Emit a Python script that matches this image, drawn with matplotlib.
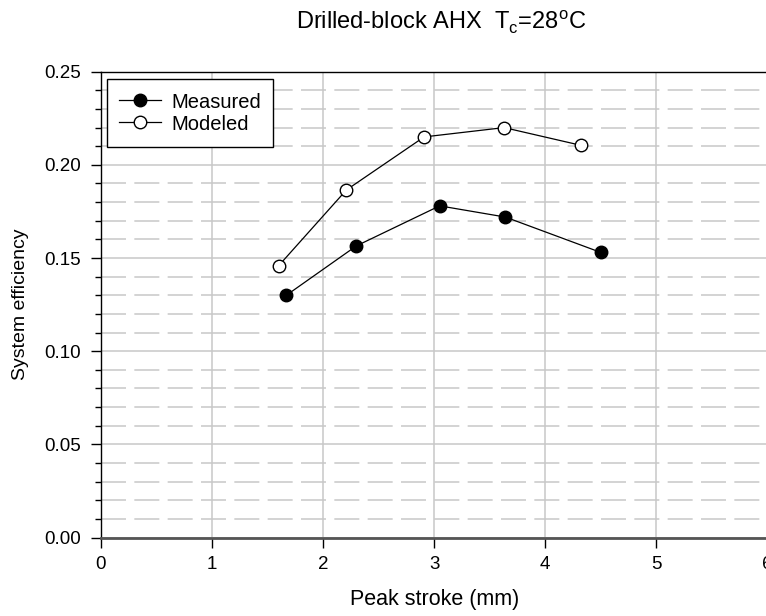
import matplotlib
matplotlib.use('Agg')
import matplotlib.pyplot as plt
from matplotlib.ticker import MultipleLocator

plt.rcParams['font.family'] = ['Liberation Sans', 'DejaVu Sans']
plt.rcParams['lines.scale_dashes'] = False

# data
measured_x = [1.67, 2.30, 3.05, 3.64, 4.50]
measured_y = [0.130, 0.1565, 0.178, 0.172, 0.153]
modeled_x = [1.60, 2.21, 2.91, 3.63, 4.32]
modeled_y = [0.1458, 0.1865, 0.215, 0.220, 0.2105]
x_ticks = [0, 1, 2, 3, 4, 5, 6]
y_ticks = [0.00, 0.05, 0.10, 0.15, 0.20, 0.25]

fig = plt.figure(figsize=(7.66, 6.16), dpi=100)
ax = fig.add_axes([0.1315, 0.1274, 0.8705, 0.7562])

grid_c = '#c8c8c8'
ax.set_axisbelow(True)
ax.grid(True, which='major', axis='both', color=grid_c, linewidth=1.1)
ax.grid(True, which='minor', axis='y', color=grid_c, linewidth=1.1,
        linestyle=(0, (18, 6)))

ax.plot(measured_x, measured_y, '-o', color='black', lw=0.9, ms=9,
        mfc='black', mec='black', label='Measured', zorder=3)
ax.plot(modeled_x, modeled_y, '-o', color='black', lw=0.9, ms=9,
        mfc='white', mec='black', mew=1.0, label='Modeled', zorder=3)

ax.set_xlim(0, 6)
ax.set_ylim(0, 0.25)
ax.set_xticks(x_ticks)
ax.set_yticks(y_ticks)
ax.yaxis.set_minor_locator(MultipleLocator(0.01))
ax.set_yticklabels([f'{v:.2f}' for v in y_ticks])
ax.tick_params(axis='both', which='major', labelsize=13.5, length=7, width=1,
               direction='out')
ax.tick_params(axis='x', which='major', pad=6)
ax.tick_params(axis='y', which='major', pad=7)
ax.tick_params(axis='y', which='minor', length=4, width=1, direction='out')

for s in ['left', 'top']:
    ax.spines[s].set_color('black')
    ax.spines[s].set_linewidth(1.0)
ax.spines['bottom'].set_color('#555555')
ax.spines['bottom'].set_linewidth(2.0)
ax.spines['right'].set_visible(False)

ax.set_xlabel('Peak stroke (mm)', fontsize=15.5, labelpad=12)
ax.set_ylabel('System efficiency', fontsize=14, labelpad=11)

fig.text(0.766, 0.963, r'Drilled-block AHX  T$_\mathregular{c}$=28$^\mathregular{o}$C',
         ha='right', va='center', fontsize=17)

leg = ax.legend(loc='upper left', bbox_to_anchor=(0.0095, 0.984),
                borderaxespad=0, fontsize=14.5, handlelength=2.1,
                handleheight=1.2, fancybox=False, framealpha=1,
                edgecolor='black', labelspacing=0.05, handletextpad=0.5,
                borderpad=0.6)
leg.get_frame().set_linewidth(1.0)

fig.savefig('out.png', dpi=100)
